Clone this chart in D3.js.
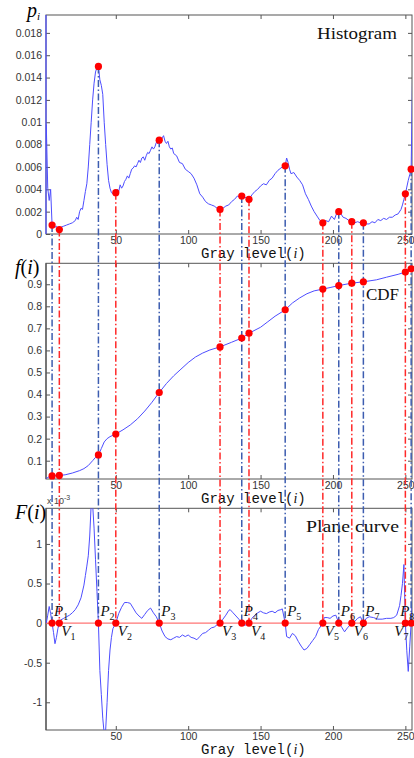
<!DOCTYPE html>
<html>
<head>
<meta charset="utf-8">
<script src="https://cdn.jsdelivr.net/npm/d3@7"></script>
<style>
  body { margin: 0; background: #fff; }
</style>
</head>
<body>
<div id="chart"></div>
<script>
// Histogram p_i
const histLevels = [2, 3, 4, 5, 6, 7, 8, 9, 10, 11, 12, 14, 16, 18, 20, 22, 23, 24, 25, 26, 27, 28, 29, 30,
  31, 32, 33, 34, 35, 36, 37, 38, 39, 40, 41, 42, 43, 44, 45, 46, 47, 48, 49, 50, 51, 52, 53, 54, 55, 56,
  57, 58, 59, 60, 61, 62, 63, 64, 65, 66, 67, 68, 69, 70, 71, 72, 73, 74, 75, 76, 77, 78, 79, 80, 81, 82,
  83, 84, 85, 86, 87, 88, 89, 90, 92, 94, 96, 98, 100, 102, 104, 106, 108, 110, 112, 114, 116, 118, 120,
  122, 124, 126, 128, 130, 132, 134, 136, 137, 139, 142, 144, 146, 148, 150, 152, 154, 156, 158, 160, 162,
  164, 166, 167, 168, 169, 170, 171, 173, 175, 177, 179, 181, 183, 185, 187, 189, 191, 193, 195, 197, 199,
  201, 203, 204, 205, 207, 209, 211, 213, 215, 217, 219, 221, 223, 225, 227, 229, 231, 233, 235, 237, 239,
  241, 243, 245, 247, 248, 249, 250, 251, 252, 253, 254, 255];
const histValues = [0.0098, 0.0041, 0.0030, 0.0040, 0.0008, 0.0009, 0.0006, 0.0007, 0.0005, 0.0004, 0.0006,
  0.0007, 0.0008, 0.0009, 0.0010, 0.0012, 0.0015, 0.0013, 0.0020, 0.0023, 0.0022, 0.0030, 0.0038, 0.0045,
  0.0060, 0.0080, 0.0100, 0.0120, 0.0135, 0.0145, 0.0149, 0.0150, 0.0138, 0.0133, 0.0125, 0.0100, 0.0080,
  0.0062, 0.0048, 0.0041, 0.0037, 0.0036, 0.0036, 0.0037, 0.0040, 0.0038, 0.0044, 0.0041, 0.0043, 0.0047,
  0.0049, 0.0052, 0.0050, 0.0054, 0.0058, 0.0059, 0.0061, 0.0060, 0.0063, 0.0066, 0.0064, 0.0068, 0.0069,
  0.0066, 0.0070, 0.0073, 0.0072, 0.0075, 0.0078, 0.0076, 0.0078, 0.0082, 0.0081, 0.0084, 0.0082, 0.0086,
  0.0088, 0.0083, 0.0081, 0.0083, 0.0078, 0.0076, 0.0077, 0.0072, 0.0070, 0.0064, 0.0063, 0.0058, 0.0056,
  0.0054, 0.0050, 0.0044, 0.0036, 0.0033, 0.0029, 0.0027, 0.0026, 0.0025, 0.0023, 0.0022, 0.0023, 0.0025,
  0.0026, 0.0029, 0.0031, 0.0034, 0.0033, 0.0034, 0.0033, 0.0031, 0.0035, 0.0038, 0.0040, 0.0043, 0.0045,
  0.0044, 0.0048, 0.0050, 0.0054, 0.0057, 0.0059, 0.0061, 0.0061, 0.0068, 0.0064, 0.0058, 0.0054, 0.0055,
  0.0051, 0.0048, 0.0044, 0.0036, 0.0031, 0.0025, 0.0020, 0.0016, 0.0012, 0.0010, 0.0012, 0.0011, 0.0016,
  0.0013, 0.0020, 0.0020, 0.0019, 0.0015, 0.0014, 0.0012, 0.0011, 0.0010, 0.0011, 0.0010, 0.0010, 0.0009,
  0.0009, 0.0011, 0.0010, 0.0013, 0.0012, 0.0014, 0.0013, 0.0015, 0.0015, 0.0017, 0.0018, 0.0022, 0.0026,
  0.0031, 0.0036, 0.0042, 0.0048, 0.0053, 0.0058, 0.0145];

// CDF f(i)
const cdfLevels = [1, 3, 5, 6, 8, 11, 15, 20, 25, 28, 31, 34, 36, 38, 40, 42, 44, 46, 48, 50, 55, 60, 65, 70,
  75, 80, 85, 90, 95, 100, 105, 110, 115, 122, 130, 137, 142, 150, 155, 160, 167, 172, 177, 182, 187, 193,
  198, 204, 213, 221, 230, 237, 245, 250, 254, 255];
const cdfValues = [0.017, 0.024, 0.030, 0.031, 0.032, 0.033, 0.036, 0.044, 0.055, 0.064, 0.078, 0.100, 0.115,
  0.126, 0.155, 0.185, 0.200, 0.209, 0.215, 0.221, 0.240, 0.262, 0.290, 0.325, 0.365, 0.409, 0.450, 0.485,
  0.515, 0.545, 0.570, 0.588, 0.602, 0.616, 0.637, 0.656, 0.678, 0.705, 0.730, 0.755, 0.784, 0.815, 0.838,
  0.857, 0.870, 0.878, 0.885, 0.894, 0.905, 0.911, 0.920, 0.932, 0.945, 0.955, 0.970, 0.990];

// Plane curve F(i), in units of 10^-3
const planeLevels = [2, 3, 4, 5, 6, 7, 8, 9, 10, 11, 12, 14, 16, 18, 20, 22, 24, 26, 28, 29, 30, 31, 32, 33,
  34, 35, 36, 37, 38, 39, 40, 41, 42, 43, 44, 45, 46, 47, 48, 50, 52, 54, 56, 58, 60, 62, 64, 66, 68, 70,
  72, 74, 76, 78, 80, 82, 84, 86, 88, 90, 92, 94, 96, 98, 100, 102, 104, 106, 108, 110, 112, 114, 116, 118,
  120, 122, 124, 126, 128, 129, 131, 133, 135, 137, 139, 140, 142, 144, 146, 148, 150, 152, 154, 156, 158,
  160, 162, 164, 165, 167, 168, 170, 172, 174, 176, 178, 180, 182, 184, 186, 188, 190, 193, 194, 196, 198,
  200, 202, 204, 206, 208, 210, 213, 215, 217, 219, 221, 223, 225, 228, 231, 234, 237, 240, 242, 244, 246,
  247, 248, 249, 250, 251, 252, 253, 254, 255];
const planeValues = [0, 0.10, 0.21, 0.12, 0, -0.12, -0.26, -0.18, -0.07, 0, 0.04, 0.06, 0.08, 0.10, 0.13,
  0.17, 0.23, 0.32, 0.48, 0.60, 0.72, 0.85, 1.10, 1.50, 1.50, 1.20, 0.80, 0.40, 0, -0.60, -0.90, -1.20,
  -1.40, -1.35, -1.00, -0.60, -0.34, -0.18, -0.07, 0, 0.12, 0.20, 0.26, 0.26, 0.25, 0.19, 0.13, 0.09, 0.06,
  0.11, 0.16, 0.19, 0.13, 0.08, 0, -0.10, -0.17, -0.20, -0.21, -0.19, -0.17, -0.18, -0.15, -0.17, -0.15,
  -0.18, -0.19, -0.21, -0.17, -0.13, -0.12, -0.09, -0.06, -0.05, -0.02, 0, 0.05, 0.10, 0.16, 0.17, 0.13,
  0.09, 0.05, 0, -0.03, -0.02, 0, 0.06, 0.10, 0.13, 0.15, 0.13, 0.12, 0.14, 0.15, 0.13, 0.16, 0.17, 0.18,
  0, -0.17, -0.19, -0.13, -0.16, -0.23, -0.29, -0.34, -0.32, -0.27, -0.22, -0.17, -0.08, 0, 0.07, 0.07,
  0.06, 0.09, 0.10, 0, -0.05, -0.11, -0.06, 0, 0.02, 0.06, 0.08, 0, 0.06, 0.08, 0.07, 0.05, 0.05, 0.06,
  0.06, 0.07, 0.10, 0.22, 0.35, 0.50, 0.74, 0, -0.35, -0.61, -0.30, 0, 0.40];

// peaks (P) and valleys (V)
const peakLevels = [6, 38, 80, 137, 167, 204, 221, 254];
const valleyLevels = [11, 50, 122, 142, 193, 213, 250];

// tick labels
const xTicks = [50, 100, 150, 200, 250];
const histTicks = [0, 0.002, 0.004, 0.006, 0.008, 0.01, 0.012, 0.014, 0.016, 0.018];
const cdfTicks = [0.1, 0.2, 0.3, 0.4, 0.5, 0.6, 0.7, 0.8, 0.9];
const planeTicks = [-1, -0.5, 0, 0.5, 1];

const width = 414, height = 758;
const left = 46, right = 412;
const curveColor = "#4d4dff";
const blueDash = "#3d5db0";
const redDash = "#ff2a2a";
const dashPattern = "7,2.5,1.5,2.5";

const svg = d3.select("#chart").append("svg")
  .attr("width", width)
  .attr("height", height)
  .style("background", "#fff");

const x = d3.scaleLinear().domain([0, 255]).range([43.4, 412.6]);

const histData = histLevels.map((g, i) => [g, histValues[i]]);
const cdfData = cdfLevels.map((g, i) => [g, cdfValues[i]]);
const planeData = planeLevels.map((g, i) => [g, planeValues[i]]);

const histAt = new Map(histData);
const cdfAt = new Map(cdfData);

// three stacked panels
const yHist = d3.scaleLinear().domain([0, 0.0196]).range([234, 15]);
const yCdf = d3.scaleLinear().domain([0.017, 0.995]).range([479, 263.3]);
const yPlane = d3.scaleLinear().domain([-1.35, 1.45]).range([730, 508.3]);

function drawPanel(y, yTicks, id, leftColor) {
  const top = y.range()[1], bottom = y.range()[0];
  const g = svg.append("g");

  svg.append("clipPath").attr("id", id)
    .append("rect")
    .attr("x", left).attr("y", top)
    .attr("width", right - left).attr("height", bottom - top);

  const fmt = d => String(+d.toFixed(3));

  // bottom axis with labels
  g.append("g")
    .attr("transform", `translate(0,${bottom})`)
    .call(d3.axisBottom(x).tickValues(xTicks).tickSizeInner(-4).tickSizeOuter(0).tickPadding(3))
    .call(a => a.select(".domain").remove());
  // top axis, marks only
  g.append("g")
    .attr("transform", `translate(0,${top})`)
    .call(d3.axisTop(x).tickValues(xTicks).tickSizeInner(-4).tickSizeOuter(0).tickFormat(""))
    .call(a => a.select(".domain").remove());
  // left axis with labels
  g.append("g")
    .attr("transform", `translate(${left},0)`)
    .call(d3.axisLeft(y).tickValues(yTicks).tickFormat(fmt).tickSizeInner(-4).tickSizeOuter(0).tickPadding(4))
    .call(a => a.select(".domain").remove());
  // right axis, marks only
  g.append("g")
    .attr("transform", `translate(${right},0)`)
    .call(d3.axisRight(y).tickValues(yTicks).tickSizeInner(-4).tickSizeOuter(0).tickFormat(""))
    .call(a => a.select(".domain").remove());

  g.selectAll(".tick line").attr("stroke", "#555");
  g.selectAll(".tick text")
    .attr("fill", "#333")
    .style("font-family", "'Liberation Sans', Arial, sans-serif")
    .style("font-size", "10.5px");

  // box
  g.append("rect")
    .attr("x", left).attr("y", top)
    .attr("width", right - left).attr("height", bottom - top)
    .attr("fill", "none")
    .attr("stroke", "#555")
    .attr("stroke-width", 1);
  g.append("line")
    .attr("x1", left).attr("x2", left)
    .attr("y1", top).attr("y2", bottom)
    .attr("stroke", leftColor)
    .attr("stroke-width", 1.2);

  // x label
  const lab = g.append("text")
    .attr("x", 201)
    .attr("y", bottom + 24)
    .attr("fill", "#111")
    .style("font-family", "'Liberation Mono', 'DejaVu Sans Mono', monospace")
    .style("font-size", "14px")
    .text("Gray level(");
  lab.append("tspan")
    .style("font-family", "'Liberation Serif', serif")
    .style("font-style", "italic")
    .text("i");
  lab.append("tspan").text(")");

  return g;
}

drawPanel(yHist, histTicks, "clipHist", curveColor);
drawPanel(yCdf, cdfTicks, "clipCdf", "#555");
drawPanel(yPlane, planeTicks, "clipPlane", "#555");

// zero line of the plane curve
svg.append("line")
  .attr("x1", left).attr("x2", right)
  .attr("y1", yPlane(0)).attr("y2", yPlane(0))
  .attr("stroke", "#ff7474")
  .attr("stroke-width", 1.3);

// curves
const line = yScale => d3.line().x(d => x(d[0])).y(d => yScale(d[1]));

svg.append("path").datum(histData)
  .attr("clip-path", "url(#clipHist)")
  .attr("d", line(yHist))
  .attr("fill", "none").attr("stroke", curveColor).attr("stroke-width", 1);

svg.append("path").datum(cdfData)
  .attr("clip-path", "url(#clipCdf)")
  .attr("d", line(yCdf))
  .attr("fill", "none").attr("stroke", curveColor).attr("stroke-width", 1);

svg.append("path").datum(planeData)
  .attr("clip-path", "url(#clipPlane)")
  .attr("d", line(yPlane))
  .attr("fill", "none").attr("stroke", curveColor).attr("stroke-width", 1);

// panel titles
const titleFont = "'Liberation Serif', 'Times New Roman', serif";
[["Histogram", 317, 39, 80], ["CDF", 366, 300, 33], ["Plane curve", 306, 532, 93]].forEach(([t, tx, ty, len]) => {
  svg.append("text")
    .attr("x", tx).attr("y", ty)
    .attr("textLength", len)
    .attr("lengthAdjust", "spacingAndGlyphs")
    .attr("fill", "#111")
    .style("font-family", titleFont)
    .style("font-size", "17px")
    .text(t);
});

// y axis names
const pl = svg.append("text").attr("x", 27).attr("y", 17)
  .style("font-family", titleFont).style("font-style", "italic").style("font-size", "20px").text("p");
pl.append("tspan").attr("dy", 3).style("font-size", "11px").text("i");

[["f", 274], ["F", 519]].forEach(([s, ty]) => {
  const t = svg.append("text").attr("x", 15).attr("y", ty)
    .style("font-family", titleFont).style("font-size", "20px");
  t.append("tspan").style("font-style", "italic").text(s);
  t.append("tspan").text("(");
  t.append("tspan").style("font-style", "italic").text("i");
  t.append("tspan").text(")");
});

const sci = svg.append("text").attr("x", 47).attr("y", 504)
  .attr("fill", "#444")
  .style("font-family", "'Liberation Sans', Arial, sans-serif")
  .style("font-size", "9px")
  .text("x 10");
sci.append("tspan").attr("dy", -4).style("font-size", "7px").text("-3");

// dash-dot guides from the histogram down to the zero line
const guides = peakLevels.map(g => ({ g, color: blueDash }))
  .concat(valleyLevels.map(g => ({ g, color: redDash })));

svg.selectAll(".guide")
  .data(guides)
  .enter()
  .append("line")
  .attr("class", "guide")
  .attr("x1", d => x(d.g)).attr("x2", d => x(d.g))
  .attr("y1", d => yHist(histAt.get(d.g)))
  .attr("y2", yPlane(0))
  .attr("stroke", d => d.color)
  .attr("stroke-width", 1.5)
  .attr("stroke-dasharray", dashPattern);

// red markers
const allLevels = peakLevels.concat(valleyLevels);
const dot = (cx, cy) => svg.append("circle").attr("cx", cx).attr("cy", cy).attr("r", 3.6).attr("fill", "#ff0000");
allLevels.forEach(g => {
  dot(x(g), yHist(histAt.get(g)));
  dot(x(g), yCdf(cdfAt.get(g)));
  dot(x(g), yPlane(0));
});

// P / V labels
function pvLabel(letter, k, g, ty) {
  const dx = x(g) > 395 ? -11 : 2;
  const t = svg.append("text")
    .attr("x", x(g) + dx).attr("y", ty)
    .attr("fill", "#111")
    .style("font-family", titleFont)
    .style("font-style", "italic")
    .style("font-size", "15px")
    .text(letter);
  t.append("tspan").attr("dy", 4).style("font-style", "normal").style("font-size", "10px").text(k);
}
peakLevels.forEach((g, i) => pvLabel("P", i + 1, g, yPlane(0) - 7));
valleyLevels.forEach((g, i) => pvLabel("V", i + 1, g, yPlane(0) + 13));
</script>
</body>
</html>
